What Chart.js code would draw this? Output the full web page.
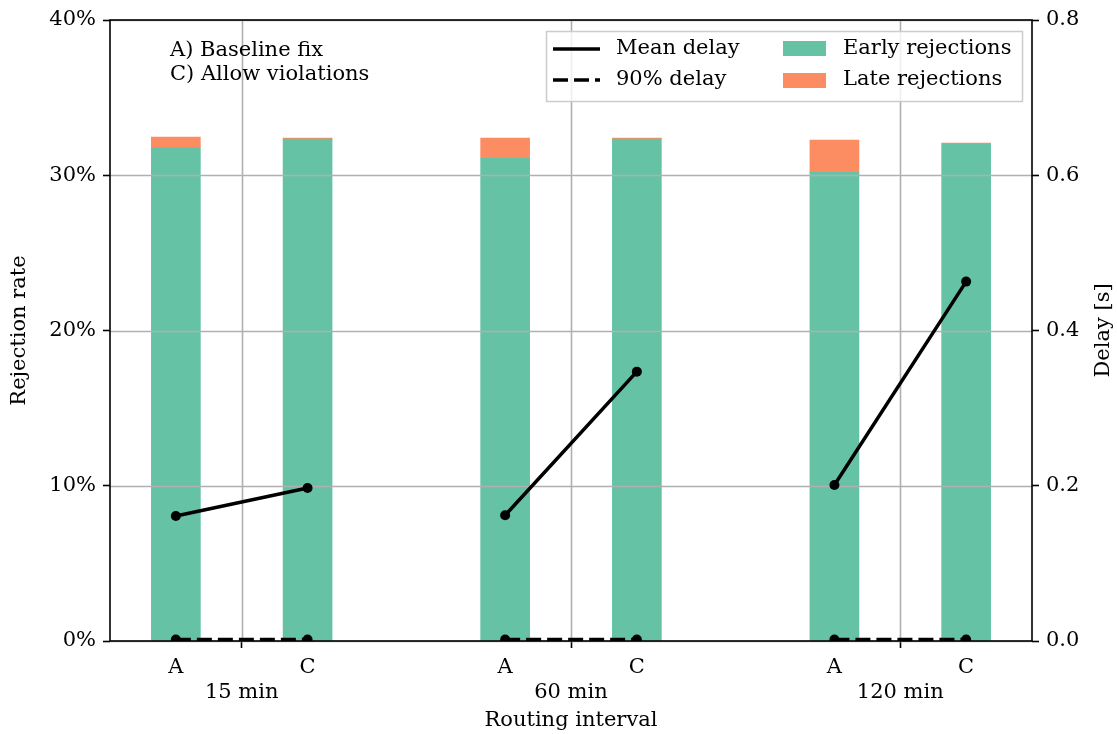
<!DOCTYPE html>
<html>
<head>
<meta charset="utf-8">
<script src="https://cdn.jsdelivr.net/npm/chart.js@4.4.0/dist/chart.umd.min.js"></script>
<style>
  html, body { margin: 0; background: #fff; }
  #contenedor { width: 1117px; height: 734px; }
</style>
</head>
<body>
<div id="contenedor"><canvas id="grafico"></canvas></div>
<script>
// Datos
var grupos = ['15 min', '60 min', '120 min'];
var variantes = ['A', 'C'];
var rechazoTemprano = [31.76, 32.33, 31.09, 32.33, 30.19, 32.01]; // % (A, C por grupo)
var rechazoTotal = [32.46, 32.40, 32.40, 32.40, 32.27, 32.08];    // % temprano + tardio
var retardoMedio = [0.161, 0.197, 0.162, 0.347, 0.201, 0.463];    // s
var retardo90 = [0.002, 0.002, 0.002, 0.002, 0.002, 0.002];       // s
var ticksRechazo = [0, 10, 20, 30, 40];
var ticksRetardo = [0, 0.2, 0.4, 0.6, 0.8];

var VERDE = '#66c2a5';
var NARANJA = '#fc8d62';
var GRIS = '#b0b0b0';
var FUENTE = '"DejaVu Serif", serif';
var TAM = 21;

Chart.defaults.font.family = FUENTE;
Chart.defaults.font.size = TAM;
Chart.defaults.color = '#000';

// posicion x de cada barra: grupo -0.2 (A) / +0.2 (C)
function posX(i) {
  var g = Math.floor(i / variantes.length);
  var v = i % variantes.length;
  return g + (v === 0 ? -0.2 : 0.2);
}

var barrasTempranas = [], barrasTardias = [], lineaMedia = [], linea90 = [];
var posTicks = [], etiquetasTicks = [];
for (var g = 0; g < grupos.length; g++) {
  for (var v = 0; v < variantes.length; v++) {
    var i = g * variantes.length + v;
    barrasTempranas.push({ x: posX(i), y: [0, rechazoTemprano[i]] });
    barrasTardias.push({ x: posX(i), y: [rechazoTemprano[i], rechazoTotal[i]] });
    lineaMedia.push({ x: posX(i), y: retardoMedio[i] });
    linea90.push({ x: posX(i), y: retardo90[i] });
  }
  // corte entre grupos
  lineaMedia.push({ x: g + 0.5, y: null });
  linea90.push({ x: g + 0.5, y: null });

  posTicks.push(g - 0.2, g, g + 0.2);
  etiquetasTicks.push(variantes[0], ['', grupos[g]], variantes[1]);
}

var pluginDecoracion = {
  id: 'decoracion',
  beforeDatasetDraw: function (chart, args) {
    if (args.index !== 1) return; // rejilla por encima de las barras, debajo de las lineas
    var ctx = chart.ctx, area = chart.chartArea;
    var sx = chart.scales.x, sy = chart.scales.y;
    ctx.save();
    ctx.strokeStyle = GRIS;
    ctx.lineWidth = 1.6;
    for (var g = 0; g < grupos.length; g++) {
      var px = Math.round(sx.getPixelForValue(g)) + 0.5;
      ctx.beginPath(); ctx.moveTo(px, area.top); ctx.lineTo(px, area.bottom); ctx.stroke();
    }
    ticksRechazo.forEach(function (t) {
      var py = Math.round(sy.getPixelForValue(t)) + 0.5;
      ctx.beginPath(); ctx.moveTo(area.left, py); ctx.lineTo(area.right, py); ctx.stroke();
    });
    ctx.restore();
  },
  afterDatasetsDraw: function (chart) {
    var ctx = chart.ctx, a = chart.chartArea;
    ctx.save();
    ctx.strokeStyle = '#000';
    ctx.lineWidth = 1.6;
    ctx.strokeRect(a.left, a.top, a.right - a.left, a.bottom - a.top);
    ctx.restore();
  },
  afterDraw: function (chart) {
    var ctx = chart.ctx, a = chart.chartArea;
    ctx.save();
    ctx.fillStyle = '#000';
    ctx.font = TAM + 'px ' + FUENTE;

    // titulos de ejes
    ctx.textAlign = 'center';
    ctx.textBaseline = 'middle';
    ctx.fillText('Routing interval', (a.left + a.right) / 2, 721);
    ctx.save(); ctx.translate(20, (a.top + a.bottom) / 2); ctx.rotate(-Math.PI / 2);
    ctx.fillText('Rejection rate', 0, 0); ctx.restore();
    ctx.save(); ctx.translate(1104, (a.top + a.bottom) / 2); ctx.rotate(-Math.PI / 2);
    ctx.fillText('Delay [s]', 0, 0); ctx.restore();

    // anotacion
    ctx.textAlign = 'left';
    ctx.fillText('A) Baseline fix', 170, 51);
    ctx.fillText('C) Allow violations', 170, 75);

    // leyenda
    ctx.fillStyle = 'rgba(255,255,255,0.8)';
    ctx.fillRect(546, 31, 476, 70);
    ctx.strokeStyle = '#cccccc';
    ctx.lineWidth = 1.5;
    ctx.strokeRect(546.5, 31.5, 476, 70);

    ctx.strokeStyle = '#000';
    ctx.lineWidth = 3.5;
    ctx.beginPath(); ctx.moveTo(553, 49); ctx.lineTo(600, 49); ctx.stroke();
    ctx.setLineDash([15, 6]);
    ctx.beginPath(); ctx.moveTo(553, 80); ctx.lineTo(600, 80); ctx.stroke();
    ctx.setLineDash([]);
    ctx.fillStyle = VERDE; ctx.fillRect(783, 41, 43, 15);
    ctx.fillStyle = NARANJA; ctx.fillRect(783, 73, 43, 15);

    ctx.fillStyle = '#000';
    ctx.fillText('Mean delay', 616, 49);
    ctx.fillText('90% delay', 616, 80);
    ctx.fillText('Early rejections', 843, 49);
    ctx.fillText('Late rejections', 843, 80);
    ctx.restore();
  }
};

var ctx = document.getElementById('grafico').getContext('2d');
var chart = new Chart(ctx, {
  type: 'bar',
  data: {
    datasets: [{
      type: 'line',
      label: 'Mean delay',
      data: lineaMedia,
      yAxisID: 'y2',
      borderColor: '#000',
      backgroundColor: '#000',
      borderWidth: 3.5,
      pointRadius: 5,
      pointBackgroundColor: '#000',
      pointBorderWidth: 0,
      spanGaps: false,
      clip: 0
    }, {
      type: 'line',
      label: '90% delay',
      data: linea90,
      yAxisID: 'y2',
      borderColor: '#000',
      backgroundColor: '#000',
      borderWidth: 3.5,
      borderDash: [15, 6],
      pointRadius: 5,
      pointBackgroundColor: '#000',
      pointBorderWidth: 0,
      spanGaps: false,
      clip: 0
    }, {
      label: 'Early rejections',
      data: barrasTempranas,
      yAxisID: 'y',
      backgroundColor: VERDE,
      barThickness: 49,
      grouped: false,
      borderSkipped: false
    }, {
      label: 'Late rejections',
      data: barrasTardias,
      yAxisID: 'y',
      backgroundColor: NARANJA,
      barThickness: 49,
      grouped: false,
      borderSkipped: false
    }]
  },
  options: {
    responsive: true,
    maintainAspectRatio: false,
    animation: false,
    layout: { padding: { top: 20, left: 0, right: 0, bottom: 0 } },
    plugins: { legend: { display: false }, tooltip: { enabled: false } },
    scales: {
      x: {
        type: 'linear',
        min: -0.4,
        max: 2.4,
        offset: false,
        afterFit: function (s) { s.height = 93; },
        afterBuildTicks: function (s) {
          s.ticks = posTicks.map(function (p) { return { value: p }; });
        },
        border: { display: false },
        grid: {
          offset: false,
          drawOnChartArea: false,
          drawTicks: true,
          tickLength: 7,
          tickWidth: 1.6,
          tickColor: function (c) {
            return c.tick && Number.isInteger(c.tick.value) ? '#000' : 'rgba(0,0,0,0)';
          }
        },
        ticks: {
          autoSkip: false,
          maxRotation: 0,
          padding: 7,
          callback: function (valor, index) { return etiquetasTicks[index]; }
        }
      },
      y: {
        position: 'left',
        min: 0,
        max: 40,
        afterFit: function (s) { s.width = 110; },
        afterBuildTicks: function (s) {
          s.ticks = ticksRechazo.map(function (t) { return { value: t }; });
        },
        border: { display: false },
        grid: { drawOnChartArea: false, tickLength: 7, tickWidth: 1.6, tickColor: '#000' },
        ticks: {
          padding: 7,
          callback: function (valor) { return valor + '%'; }
        }
      },
      y2: {
        position: 'right',
        min: 0,
        max: 0.8,
        afterFit: function (s) { s.width = 85; },
        afterBuildTicks: function (s) {
          s.ticks = ticksRetardo.map(function (t) { return { value: t }; });
        },
        border: { display: false },
        grid: { drawOnChartArea: false, tickLength: 7, tickWidth: 1.6, tickColor: '#000' },
        ticks: {
          padding: 7,
          callback: function (valor) { return valor.toFixed(1); }
        }
      }
    }
  },
  plugins: [pluginDecoracion]
});
</script>
</body>
</html>
